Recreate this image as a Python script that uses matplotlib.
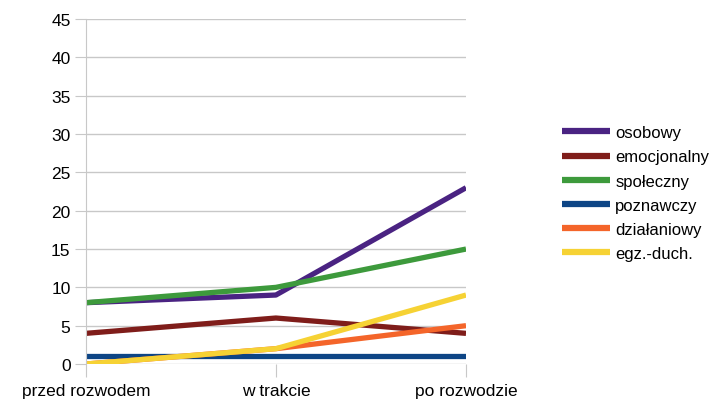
import matplotlib.pyplot as plt

plt.rcParams['font.family'] = ['Liberation Sans', 'DejaVu Sans']

# categories on the x axis
etapy = ['przed rozwodem', 'w trakcie', 'po rozwodzie']

# series values
osobowy = [8, 9, 23]
emocjonalny = [4, 6, 4]
spoleczny = [8, 10, 15]
poznawczy = [1, 1, 1]
dzialaniowy = [0, 2, 5]
egz_duch = [0, 2, 9]

serie = [
    ('osobowy', osobowy, '#4a2382'),
    ('emocjonalny', emocjonalny, '#7f1d1a'),
    ('społeczny', spoleczny, '#3d9a3c'),
    ('poznawczy', poznawczy, '#0d4585'),
    ('działaniowy', dzialaniowy, '#f4652a'),
    ('egz.-duch.', egz_duch, '#f6d234'),
]

fig = plt.figure(figsize=(7.27, 4.02), dpi=100)
ax = fig.add_axes([0.118, 0.092, 0.523, 0.858])

x = range(len(etapy))
for nazwa, wartosci, kolor in serie:
    ax.plot(x, wartosci, color=kolor, lw=3.8, label=nazwa, solid_capstyle='butt')

ax.set_ylim(0, 45)
ax.set_yticks(range(0, 46, 5))
ax.set_xlim(0, len(etapy) - 1)
ax.set_xticks(list(x))
ax.set_xticklabels(etapy)

ax.grid(axis='y', color='#c8c8c8', lw=1)
ax.set_axisbelow(True)
for s in ['top', 'right', 'bottom']:
    ax.spines[s].set_visible(False)
ax.spines['left'].set_color('#c8c8c8')
ax.tick_params(axis='y', length=8, color='#c8c8c8', labelsize=12.5, pad=3)
ax.tick_params(axis='x', length=9, color='#c8c8c8', labelsize=12.5, pad=5)

leg = fig.legend(loc='center left', bbox_to_anchor=(0.757, 0.517), frameon=False,
                 fontsize=12, handlelength=2.9, labelspacing=0.55,
                 handletextpad=0.3, borderpad=0.2)
for h in leg.get_lines():
    h.set_linewidth(4.5)

fig.savefig('out.png', dpi=100)
